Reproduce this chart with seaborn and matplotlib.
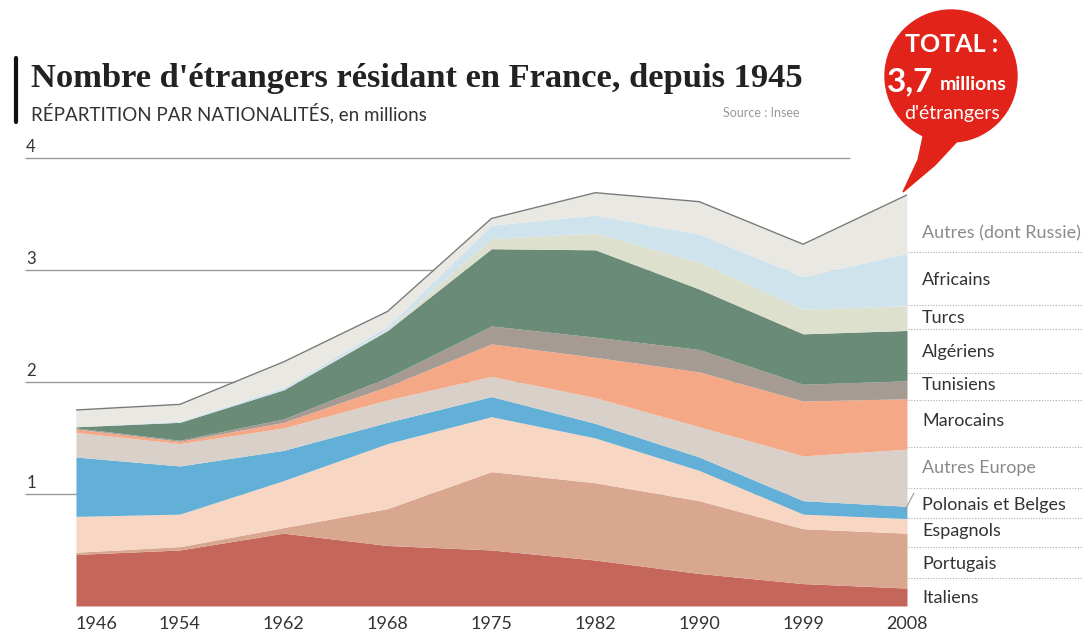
import numpy as np
import pandas as pd
import matplotlib.pyplot as plt
import matplotlib.patches as mpatches
import seaborn as sns

# Data (millions of residents)
years = ["1946", "1954", "1962", "1968", "1975", "1982", "1990", "1999", "2008"]
italiens = [0.46, 0.50, 0.65, 0.54, 0.50, 0.41, 0.29, 0.20, 0.16]
portugais = [0.02, 0.03, 0.05, 0.33, 0.70, 0.69, 0.65, 0.49, 0.49]
espagnols = [0.32, 0.29, 0.42, 0.58, 0.49, 0.40, 0.27, 0.13, 0.13]
polonais_belges = [0.53, 0.43, 0.27, 0.19, 0.18, 0.13, 0.12, 0.12, 0.11]
autres_europe = [0.22, 0.20, 0.20, 0.20, 0.18, 0.23, 0.27, 0.40, 0.51]
marocains = [0.03, 0.02, 0.05, 0.12, 0.29, 0.36, 0.49, 0.49, 0.45]
tunisiens = [0.01, 0.01, 0.03, 0.08, 0.16, 0.18, 0.20, 0.15, 0.16]
algeriens = [0.01, 0.16, 0.26, 0.42, 0.69, 0.78, 0.54, 0.45, 0.45]
turcs = [0.00, 0.00, 0.00, 0.01, 0.09, 0.15, 0.24, 0.22, 0.22]
africains = [0.00, 0.01, 0.02, 0.03, 0.12, 0.16, 0.25, 0.29, 0.47]
autres = [0.15, 0.15, 0.23, 0.13, 0.06, 0.20, 0.29, 0.29, 0.52]

series = ["Italiens", "Portugais", "Espagnols", "Polonais et Belges", "Autres Europe",
          "Marocains", "Tunisiens", "Algériens", "Turcs", "Africains", "Autres (dont Russie)"]
colors = ["#c4675a", "#d9a68f", "#f8d6c4", "#62afd8", "#d8d0c9",
          "#f4a886", "#a59b93", "#6a8b77", "#dee0ce", "#cfe3ed", "#e9e8e3"]

df = pd.DataFrame({
    "Italiens": italiens, "Portugais": portugais, "Espagnols": espagnols,
    "Polonais et Belges": polonais_belges, "Autres Europe": autres_europe,
    "Marocains": marocains, "Tunisiens": tunisiens, "Algériens": algeriens,
    "Turcs": turcs, "Africains": africains, "Autres (dont Russie)": autres,
}, index=years)
df["total"] = df[series].sum(axis=1)
xs = np.arange(len(years))

sns.set_style("white")
plt.rcParams["font.family"] = ["Lato", "DejaVu Sans"]

fig = plt.figure(figsize=(10.9, 6.37), dpi=100)
ax = fig.add_axes([0.0697, 0.0487, 0.7624, 0.7033])

# gridlines behind the areas
ax.hlines([1, 2, 3, 4], -0.49, 7.45, color="#9a9a9a", lw=1, clip_on=False, zorder=0)
for v in [1, 2, 3, 4]:
    ax.text(-0.48, v + 0.025, str(v), fontsize=12, color="#333333", ha="left", va="bottom")

ax.stackplot(xs, [df[s] for s in series], colors=colors, lw=0, zorder=2)
sns.lineplot(x=xs, y=df["total"].values, ax=ax, color="#7a7a7a", lw=1, zorder=3)

ax.set_xlim(0, 8)
ax.set_ylim(0, 4)
ax.set_xticks(xs)
ax.set_xticklabels(years, fontsize=13, color="#333333")
ax.get_xticklabels()[0].set_ha("left")
ax.tick_params(axis="x", length=0, pad=7)
ax.set_yticks([])
sns.despine(ax=ax, left=True, bottom=True)
ax.set_facecolor("none")

# overlay in pixel coordinates for titles, labels and bubble
ov = fig.add_axes([0, 0, 1, 1], zorder=5)
ov.set_xlim(0, 1090)
ov.set_ylim(637, 0)
ov.axis("off")
ov.patch.set_visible(False)

ov.plot([16, 16], [58, 122], color="#111111", lw=3)
ov.text(31, 87, "Nombre d'étrangers résidant en France, depuis 1945", fontsize=24.8,
        fontweight="bold", family=["Liberation Serif", "DejaVu Serif"], color="#222222",
        ha="left", va="baseline")
ov.text(31, 113, "RÉPARTITION PAR NATIONALITÉS, en millions", fontsize=13.5,
        color="#333333", ha="left", va="center")
ov.text(800, 113, "Source : Insee", fontsize=9, color="#999999", ha="right", va="center")

# right-side labels
label_y = [598, 564, 531, 505, 468, 421, 385, 352, 318, 280, 233]
for name, y in zip(series, label_y):
    col = "#8a8a8a" if name.startswith("Autres") else "#333333"
    ov.text(922, y, name, fontsize=13, color=col, ha="left", va="center")
for y in [252, 305, 329, 373, 400, 447, 488, 518, 547, 578]:
    ov.plot([908, 1082], [y, y], color="#aaaaaa", lw=0.8, ls=(0, (1, 1.5)))
ov.plot([904, 914], [512, 493], color="#999999", lw=0.8)

# red bubble
red = "#e2231a"
ov.add_patch(mpatches.Circle((951, 76), 66, color=red, zorder=1))
ov.add_patch(mpatches.Polygon([(925, 128), (962, 136), (935, 165), (903, 192), (918, 160)],
                              closed=True, color=red, zorder=1))
ov.text(952, 44, "TOTAL :", fontsize=18, fontweight="bold", color="white", ha="center", va="center", zorder=2)
ov.text(887, 82, "3,7", fontsize=24, fontweight="bold", color="white", ha="left", va="center", zorder=2)
ov.text(940, 84, "millions", fontsize=14, fontweight="bold", color="white", ha="left", va="center", zorder=2)
ov.text(952, 113, "d'étrangers", fontsize=14, color="white", ha="center", va="center", zorder=2)

fig.savefig("out.png", dpi=100, facecolor="white")
